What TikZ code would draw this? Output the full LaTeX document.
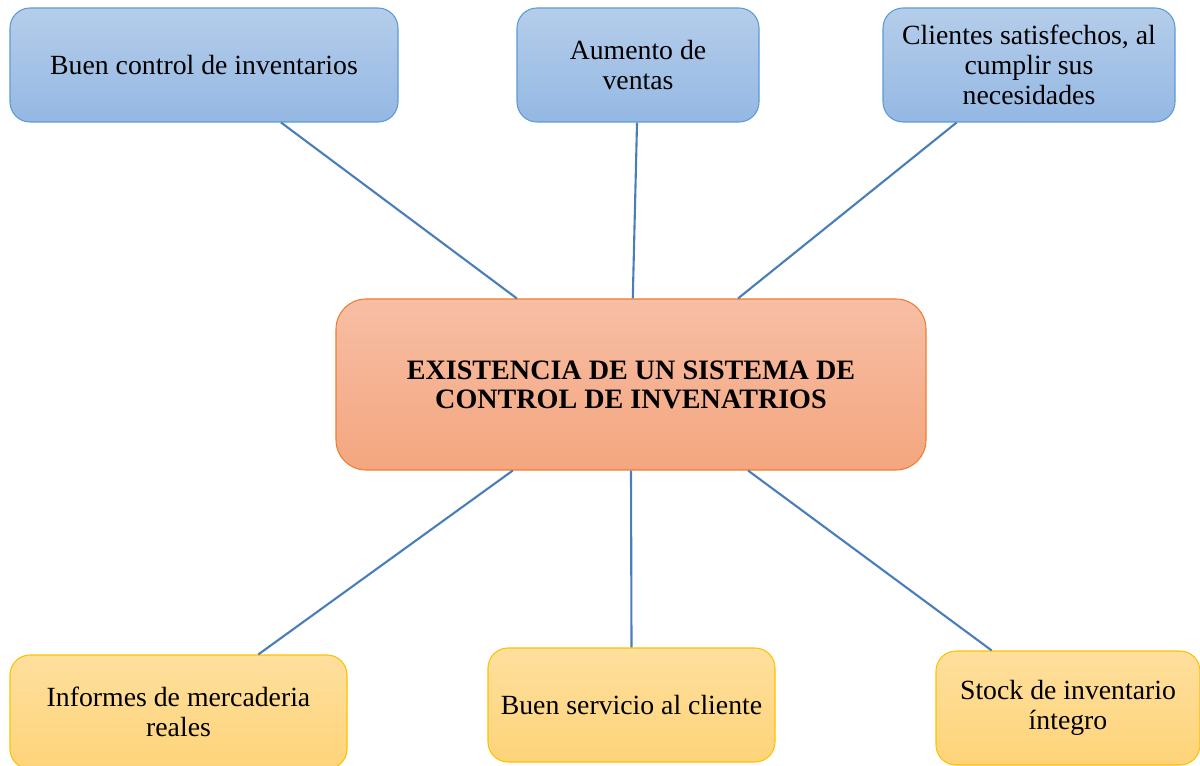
\documentclass[tikz,border=0pt]{standalone}
\usepackage{fontspec}
\setmainfont{Liberation Serif}
\usepackage{tikz}
\usetikzlibrary{calc}

\definecolor{blueedge}{HTML}{5B9BD5}
\definecolor{bluetop}{HTML}{B5CDEA}
\definecolor{bluebot}{HTML}{94B8E3}
\definecolor{orangeedge}{HTML}{ED7D31}
\definecolor{orangetop}{HTML}{F7BEA4}
\definecolor{orangebot}{HTML}{F4A67F}
\definecolor{yellowedge}{HTML}{FFC000}
\definecolor{yellowtop}{HTML}{FEDF9D}
\definecolor{yellowbot}{HTML}{FED479}
\definecolor{linkblue}{HTML}{4A7EBB}

\begin{document}
\begin{tikzpicture}[x=0.02cm,y=-0.02cm,
        box/.style={rectangle,rounded corners=0.4cm,line width=0.6pt,align=center,
            inner sep=0pt,minimum height=114*0.02cm,font=\fontsize{15.8}{17}\selectfont},
        effect/.style={box,draw=blueedge,top color=bluetop,bottom color=bluebot},
        core/.style={box,draw=orangeedge,top color=orangetop,bottom color=orangebot,rounded corners=0.6cm,
            minimum height=171*0.02cm,font=\fontsize{16}{16.5}\selectfont\bfseries},
        cause/.style={box,draw=yellowedge,top color=yellowtop,bottom color=yellowbot},
        link/.style={draw=linkblue,line width=1.2pt}]
    \useasboundingbox (0,0) rectangle (1200,766);

    \node   [effect, minimum width=388*0.02cm]  (ctrl)    at (204,65)    {Buen control de inventarios};
    \node   [effect, minimum width=242*0.02cm]  (ventas)  at (638,65)    {Aumento de\\ventas};
    \node   [effect, minimum width=292*0.02cm]  (clientes) at (1029,65)  {Clientes satisfechos, al\\cumplir sus\\necesidades};
    \node   [core, minimum width=590*0.02cm]    (sistema) at (631,384.5) {EXISTENCIA DE UN SISTEMA DE\\CONTROL DE INVENATRIOS};
    \node   [cause, minimum width=337*0.02cm]   (informes) at (178.5,712) {Informes de mercaderia\\reales};
    \node   [cause, minimum width=287*0.02cm]   (servicio) at (631.5,705) {Buen servicio al cliente};
    \node   [cause, minimum width=264*0.02cm]   (stock)   at (1068,708)  {Stock de inventario\\íntegro};

    % upper links
    \path   [link] ($(ctrl.south west)!.698!(ctrl.south east)$) edge ($(sistema.north west)!.307!(sistema.north east)$)
            ($(ventas.south west)!.496!(ventas.south east)$) edge ($(sistema.north west)!.503!(sistema.north east)$)
            ($(clientes.south west)!.253!(clientes.south east)$) edge ($(sistema.north west)!.681!(sistema.north east)$);

    % lower links
    \path   [link] ($(sistema.south west)!.30!(sistema.south east)$) edge ($(informes.north west)!.736!(informes.north east)$)
            (sistema.south) edge (servicio.north)
            ($(sistema.south west)!.698!(sistema.south east)$) edge ($(stock.north west)!.212!(stock.north east)$);
\end{tikzpicture}
\end{document}
